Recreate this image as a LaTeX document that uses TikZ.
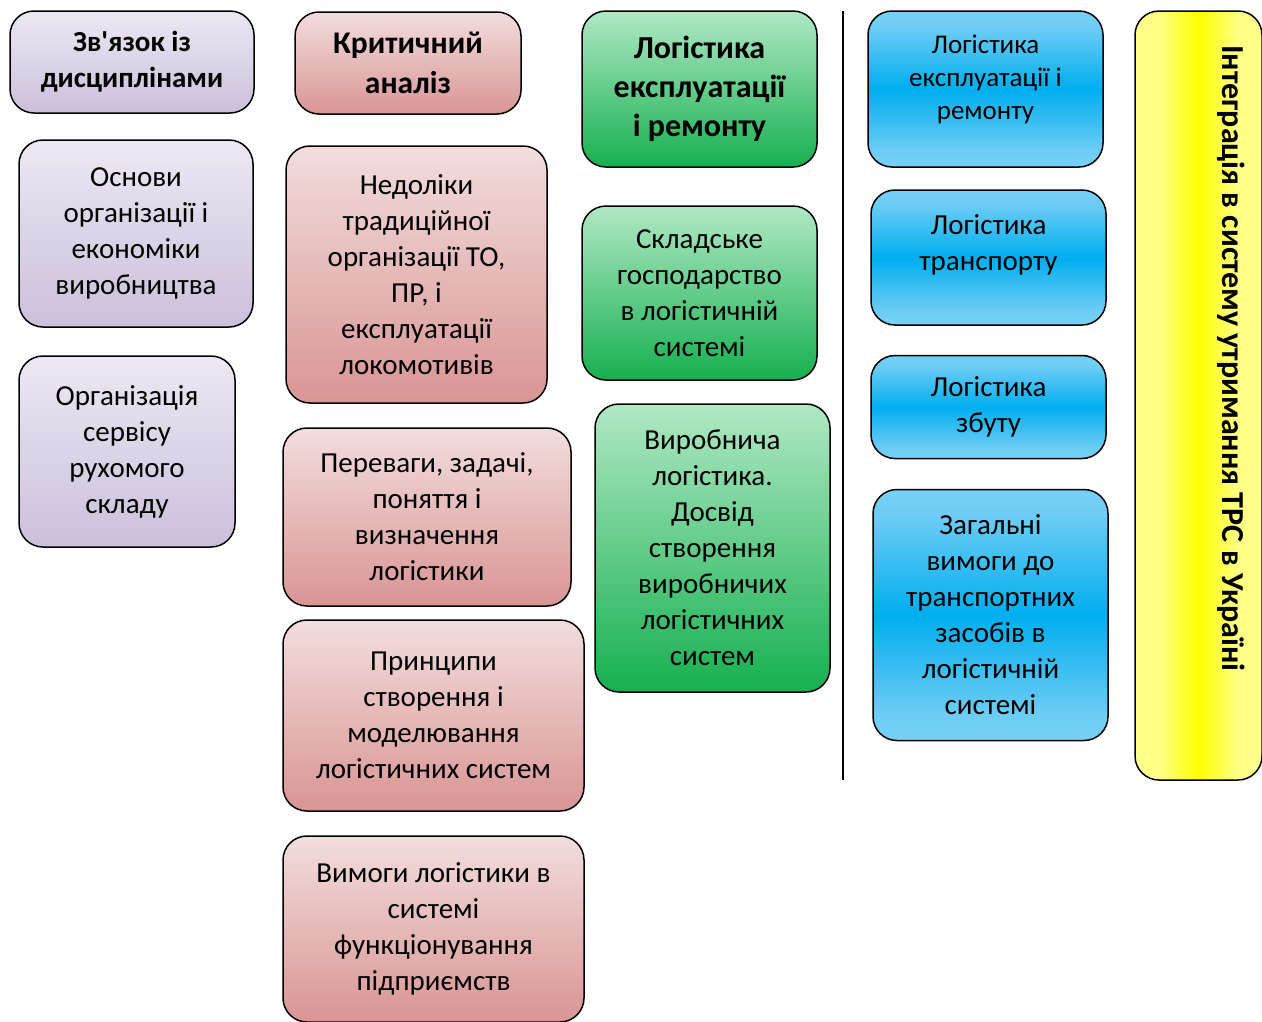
\documentclass[tikz,border=0pt]{standalone}
\usepackage{fontspec}
\setmainfont{Carlito}[Ligatures=TeXOff]
\definecolor{purlt}{RGB}{236,232,244}
\definecolor{purdk}{RGB}{203,192,218}
\definecolor{redlt}{RGB}{242,221,221}
\definecolor{reddk}{RGB}{217,149,148}
\definecolor{grnlt}{RGB}{176,232,196}
\definecolor{grndk}{RGB}{22,176,80}
\definecolor{blult}{RGB}{165,226,250}
\definecolor{blumi}{RGB}{110,205,245}
\definecolor{blumd}{RGB}{0,174,239}
\definecolor{yellt}{RGB}{255,255,165}
\definecolor{yelmi}{RGB}{255,255,130}
\definecolor{yelmd}{RGB}{255,255,0}
\pgfdeclareverticalshading{blushade}{100bp}{color(0bp)=(blult); color(30bp)=(blumi); color(50bp)=(blumd); color(70bp)=(blumi); color(100bp)=(blult)}
\pgfdeclarehorizontalshading{yelshade}{100bp}{color(0bp)=(yellt); color(35bp)=(yelmi); color(50bp)=(yelmd); color(65bp)=(yelmi); color(100bp)=(yellt)}
\tikzset{
  box/.style={draw=black, line width=1.5pt, rounded corners=24pt, inner sep=0pt, outer sep=0pt, align=center, font=\fontsize{29}{36}\selectfont},
  purp/.style={box, top color=purlt, bottom color=purdk},
  redb/.style={box, top color=redlt, bottom color=reddk},
  grnb/.style={box, top color=grnlt, bottom color=grndk},
  blub/.style={box, shading=blushade},
  yelb/.style={box, shading=yelshade},
  title/.style={font=\bfseries\fontsize{29}{36}\selectfont},
  txt/.style={align=center, inner sep=0pt, font=\fontsize{29}{36}\selectfont},
}
\begin{document}
\begin{tikzpicture}[x=1pt,y=-1pt]
\useasboundingbox (0,0) rectangle (1262,1021);
\clip (0,0) rectangle (1262,1021);
% purple column
\node[purp, title, minimum width=244pt, minimum height=102pt] (p1) at (132,62) {Зв'язок із\\дисциплінами};
\node[purp, minimum width=234pt, minimum height=187pt] (p2) at (136,233.5) {Основи\\організації і\\економіки\\виробництва};
\node[purp, minimum width=216pt, minimum height=191pt] (p3) at (127,451.5) {Організація\\сервісу\\рухомого\\складу};
% red column
\node[redb, font=\bfseries\fontsize{31.5}{40}\selectfont, minimum width=226pt, minimum height=102pt] (r1) at (408,63) {Критичний\\аналіз};
\node[redb, minimum width=261pt, minimum height=257pt] (r2) at (416.5,274.5) {Недоліки\\традиційної\\організації ТО,\\ПР, і\\експлуатації\\локомотивів};
\node[redb, minimum width=288pt, minimum height=178pt] (r3) at (427,517) {Переваги, задачі,\\поняття і\\визначення\\логістики};
\node[redb, minimum width=301pt, minimum height=191pt] (r4) at (433.5,715.5) {Принципи\\створення і\\моделювання\\логістичних систем};
\node[redb, minimum width=301pt, minimum height=186pt] (r5) at (433.5,929) {Вимоги логістики в\\системі\\функціонування\\підприємств};
% green column
\node[grnb, font=\bfseries\fontsize{32}{39}\selectfont, minimum width=235pt, minimum height=156pt] (g1) at (699.5,89) {Логістика\\експлуатації\\і ремонту};
\node[grnb, minimum width=235pt, minimum height=174pt] (g2) at (699.5,293) {Складське\\господарство\\в логістичній\\системі};
\node[grnb, minimum width=235pt, minimum height=288pt] (g3) at (712.5,548) {Виробнича\\логістика.\\Досвід\\створення\\виробничих\\логістичних\\систем};
% divider
\coordinate (ltop) at (843,11);
\coordinate (lbot) at (843,780);
\draw[line width=2.5pt] (ltop) -- (lbot);
% blue column
\node[blub, minimum width=235pt, minimum height=156pt] (b1) at (985.5,89) {};
\node[txt, font=\fontsize{27}{33}\selectfont] (b1t) at (985.5,79) {Логістика\\експлуатації і\\ремонту};
\node[blub, minimum width=235pt, minimum height=135pt] (b2) at (988.5,257.5) {};
\node[txt] (b2t) at (988.5,245) {Логістика\\транспорту};
\node[blub, minimum width=235pt, minimum height=103pt] (b3) at (988.5,407) {Логістика\\збуту};
\node[blub, minimum width=235pt, minimum height=251pt] (b4) at (990.5,615) {Загальні\\вимоги до\\транспортних\\засобів в\\логістичній\\системі};
% yellow
\node[yelb, minimum width=127pt, minimum height=769pt] (y1) at (1198.5,395.5) {};
\node[txt, font=\bfseries\fontsize{32}{36}\selectfont, rotate=-90, anchor=base west] (y1t) at (1222,45) {Інтеграція в систему утримання ТРС в Україні};
\end{tikzpicture}
\end{document}
